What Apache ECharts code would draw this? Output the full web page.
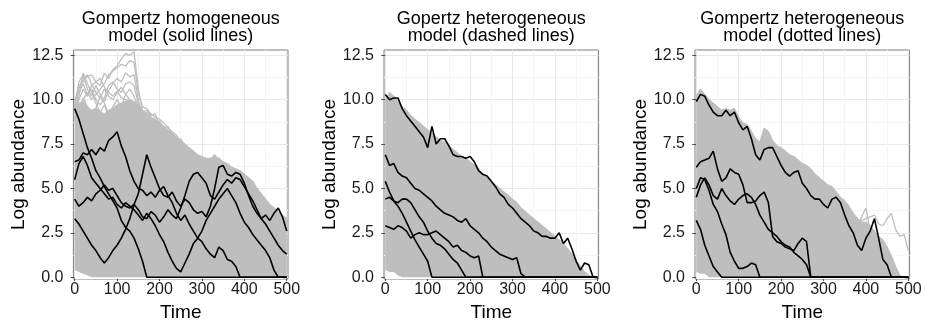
<!DOCTYPE html>
<html><head><meta charset="utf-8">
<script src="https://cdn.jsdelivr.net/npm/echarts@6/dist/echarts.min.js"></script>
<style>html,body{margin:0;padding:0;background:#fff}#c{width:926px;height:329px}</style>
</head><body><div id="c"></div>
<script>
// ---------- data ----------
const times = [0,10,20,30,40,50,60,70,80,90,100,110,120,130,140,150,160,170,180,190,200,210,220,230,240,250,260,270,280,290,300,310,320,330,340,350,360,370,380,390,400,410,420,430,440,450,460,470,480,490,500];
const xTicks = [0,100,200,300,400,500];
const xMinor = [50,150,250,350,450];
const yTicks = [0,2.5,5,7.5,10,12.5];
const yMinor = [1.25,3.75,6.25,8.75,11.25];
const titles = ["Gompertz homogeneous\nmodel (solid lines)","Gopertz heterogeneous\nmodel (dashed lines)","Gompertz heterogeneous\nmodel (dotted lines)"];
const xName = "Time";
const yName = "Log abundance";

// Panel 1: homogeneous
const homBandLow = [0.4,0.3,0.2,0.1,0,0,0,0,0,0,0,0,0,0,0,0,0,0,0,0,0,0,0,0,0,0,0,0,0,0,0,0,0,0,0,0,0,0,0,0,0,0,0,0,0,0,0,0,0,0,0];
const homBandHigh = [9.6,9.8,9.9,9.6,9.4,9.5,9.3,9.2,9.4,9.5,9.7,9.8,9.9,10.0,9.9,9.7,9.4,9.2,9.0,8.9,8.7,8.5,8.3,8.1,7.9,7.7,7.5,7.3,7.1,6.9,6.8,6.7,6.7,6.8,6.7,6.5,6.4,6.2,6.1,6.0,5.8,5.6,5.4,5.0,4.7,4.4,4.1,3.9,3.7,3.5,3.3];
const homGrey1 = [9.2,10.0,10.6,10.2,10.8,11.0,10.8,11.5,11.2,11.7,11.9,12.3,12.6,12.5,12.7,10.6,9.4,9.0,8.6,8.8,8.2,8.0,7.8,7.5,7.3,7.0,6.8,6.5,6.3,6.0,5.8,5.6,5.5,5.3,5.0,4.8,4.6,4.4,4.2,4.0,3.8,3.6,3.4,3.2,3.0,2.8,2.6,2.4,2.2,2.0,1.8];
const homGrey2 = [9.6,11.0,11.4,10.6,10.2,10.8,10.3,9.9,10.5,10.9,11.2,11.0,11.5,11.3,11.4,10.0,9.0,8.7,8.4,8.1,7.8,7.6,7.4,7.1,6.9,6.6,6.4,6.2,5.9,5.7,5.5,5.3,5.1,4.9,4.7,4.5,4.3,4.1,3.9,3.7,3.5,3.3,3.1,2.9,2.7,2.5,2.3,2.1,1.9,1.7,1.5];
const homGrey3 = [8.8,10.2,11.5,10.9,10.4,9.8,9.3,9.7,9.1,9.6,10.0,9.6,10.3,10.0,9.4,9.0,8.8,8.9,8.5,8.6,8.3,7.9,7.7,7.4,7.2,7.0,6.7,6.5,6.2,6.0,5.8,5.6,5.4,5.2,5.0,4.8,4.6,4.4,4.2,4.0,3.8,3.6,3.4,3.2,3.0,2.8,2.6,2.4,2.2,2.0,1.8];
const homGrey4 = [9.8,9.3,10.1,9.6,9.0,9.5,10.2,9.8,9.2,8.8,9.4,9.0,8.6,9.2,8.7,8.5,8.2,8.0,7.8,7.6,7.5,7.3,7.1,6.9,6.7,6.5,6.3,6.1,5.9,5.7,5.5,5.3,5.1,4.9,4.7,4.5,4.3,4.1,3.9,3.7,3.5,3.3,3.1,2.9,2.7,2.5,2.3,2.1,1.9,1.7,1.5];
const homGrey5 = [9.7,10.6,11.2,11.4,10.9,10.4,10.1,10.6,10.2,10.0,10.4,10.7,10.3,10.6,10.2,9.6,9.1,9.3,9.0,8.7,8.8,8.4,8.2,7.9,7.8,7.5,7.3,7.1,6.8,6.6,6.4,6.5,6.6,6.9,6.6,6.3,6.2,6.0,6.1,5.8,5.5,5.3,5.0,4.7,4.4,4.1,3.9,3.7,3.5,3.3,3.1];
const homGrey6 = [9.4,10.4,10.9,10.3,10.6,10.0,9.7,10.1,10.8,11.0,10.6,10.4,10.9,11.0,10.8,9.8,9.3,9.4,9.1,9.2,8.6,8.3,8.5,8.0,7.7,7.8,7.4,7.0,7.1,6.7,6.5,6.3,6.4,6.2,6.5,6.2,5.9,5.7,5.9,5.6,5.2,4.9,4.6,4.2,4.0,3.7,3.5,3.2,3.0,2.8,2.6];
const homGrey7 = [9.9,10.8,11.0,11.3,11.4,11.0,11.2,10.7,10.4,10.2,10.5,10.1,10.0,9.9,9.6,9.4,9.2,9.0,8.8,8.6,8.4,8.2,8.0,7.7,7.5,7.2,7.0,6.7,6.5,6.3,6.1,5.9,5.7,5.5,5.3,5.1,4.9,4.7,4.5,4.3,4.1,3.9,3.7,3.5,3.3,3.1,2.9,2.7,2.5,2.3,2.1];
const homGrey8 = [9.0,9.6,10.0,10.4,10.0,10.3,10.6,10.9,11.4,11.6,11.8,12.0,11.9,12.2,12.1,10.4,9.6,9.5,9.2,9.0,8.9,8.7,8.4,8.2,8.0,7.6,7.4,7.2,6.9,6.8,6.6,6.4,6.2,6.0,5.8,5.6,5.4,5.2,5.0,4.8,4.6,4.4,4.2,4.0,3.8,3.6,3.4,3.2,3.0,2.8,2.6];
const homBlack1 = [9.5,8.9,8.1,7.3,6.7,6.0,5.6,5.1,4.7,4.3,3.9,3.2,2.8,2.6,2.2,1.6,0.9,0,0,0,0,0,0,0,0,0,0,0,0,0,0,0,0,0,0,0,0,0,0,0,0,0,0,0,0,0,0,0,0,0,0];
const homBlack2 = [6.5,6.6,7.0,6.9,7.2,6.9,7.3,7.1,7.7,7.9,8.2,7.4,6.8,6.0,5.4,5.0,4.9,4.6,4.8,4.5,4.9,5.1,4.6,4.2,3.6,3.2,3.5,3.0,2.6,2.2,2.0,1.6,1.3,1.1,1.7,1.5,1.0,0.9,0.6,0,0,0,0,0,0,0,0,0,0,0,0];
const homBlack3 = [5.5,6.4,6.8,6.3,5.6,5.3,5.0,4.7,4.4,4.5,4.1,3.9,4.2,4.0,3.8,3.5,3.2,3.6,3.3,2.9,2.4,2.0,1.4,0.9,0.5,0.3,0.8,1.3,1.9,2.2,2.6,3.2,3.6,4.0,4.4,4.7,5.0,4.6,4.2,3.6,3.1,2.8,2.4,2.1,1.8,1.5,1.1,0.4,0,0,0];
const homBlack4 = [4.4,4.0,4.2,4.5,4.3,4.7,4.9,5.2,4.9,5.0,4.6,4.2,4.0,3.9,4.1,3.8,3.4,3.3,3.7,3.5,3.1,3.4,3.8,3.5,3.3,3.9,4.6,5.4,5.8,5.9,5.6,5.3,4.6,4.4,4.8,5.2,5.5,5.3,5.6,5.5,5.1,4.7,4.3,3.8,3.3,3.0,2.6,2.2,1.8,1.5,1.3];
const homBlack5 = [3.3,3.0,2.6,2.2,1.8,1.5,1.1,0.8,1.1,1.5,1.8,2.2,2.7,3.3,4.1,4.7,5.8,6.9,6.2,5.6,5.0,4.6,4.5,4.8,4.3,4.0,4.4,4.2,3.8,3.6,3.7,3.4,4.0,5.0,6.2,6.3,5.8,5.7,5.9,5.8,5.3,4.6,4.0,3.6,3.3,3.5,3.2,3.6,3.9,3.4,2.6];

// Panel 2: heterogeneous (dashed)
const hetABandLow = [0.4,0.3,0.3,0.1,0,0,0,0,0,0,0,0,0,0,0,0,0,0,0,0,0,0,0,0,0,0,0,0,0,0,0,0,0,0,0,0,0,0,0,0,0,0,0,0,0,0,0,0,0,0,0];
const hetABandHigh = [9.9,10.4,10.2,9.9,9.6,9.4,9.1,8.9,8.7,8.5,8.3,8.1,7.9,7.7,7.6,7.4,7.2,7.0,6.8,6.7,6.5,6.3,6.1,5.8,5.6,5.4,5.2,5.0,4.8,4.6,4.4,4.2,3.9,3.7,3.5,3.3,3.1,2.9,2.7,2.5,2.3,2.1,1.9,1.6,1.3,1.0,0.6,0.3,0.1,0,0];
const hetABlack1 = [10.3,10.0,10.1,10.1,9.5,9.1,8.8,8.5,8.2,7.9,7.3,8.5,7.5,7.8,7.8,7.4,6.9,6.8,6.8,6.7,6.8,6.5,6.0,5.8,5.7,5.4,5.1,4.7,4.5,4.1,3.9,3.6,3.3,3.1,2.9,2.6,2.5,2.3,2.3,2.2,2.2,2.5,1.9,2.2,1.6,0.9,0.4,0.8,0.7,0,0];
const hetABlack2 = [6.9,6.3,6.4,5.9,5.7,5.6,5.3,5.0,4.9,4.7,4.5,4.3,4.0,3.8,3.6,3.5,3.4,3.2,3.1,3.3,2.9,2.7,2.5,2.2,2.0,1.7,1.5,1.3,1.2,1.1,1.0,1.1,0.2,0,0,0,0,0,0,0,0,0,0,0,0,0,0,0,0,0,0];
const hetABlack3 = [5.4,4.8,4.3,4.0,3.6,3.1,2.6,2.1,1.7,1.3,0.9,0,0,0,0,0,0,0,0,0,0,0,0,0,0,0,0,0,0,0,0,0,0,0,0,0,0,0,0,0,0,0,0,0,0,0,0,0,0,0,0];
const hetABlack4 = [4.4,4.5,4.3,4.2,4.4,4.4,4.2,3.8,3.4,3.1,2.6,2.2,1.9,1.8,1.6,1.3,1.0,0.8,0.4,0,0,0,0,0,0,0,0,0,0,0,0,0,0,0,0,0,0,0,0,0,0,0,0,0,0,0,0,0,0,0,0];
const hetABlack5 = [2.9,2.8,2.7,2.9,2.8,2.6,2.2,2.4,2.5,2.4,2.4,2.5,2.6,2.4,2.2,2.0,1.7,1.8,1.5,1.4,1.2,1.1,1.2,0,0,0,0,0,0,0,0,0,0,0,0,0,0,0,0,0,0,0,0,0,0,0,0,0,0,0,0];

// Panel 3: heterogeneous (dotted)
const hetBBandLow = [0.3,0.2,0.2,0,0,0,0,0,0,0,0,0,0,0,0,0,0,0,0,0,0,0,0,0,0,0,0,0,0,0,0,0,0,0,0,0,0,0,0,0,0,0,0,0,0,0,0,0,0,0,0];
const hetBBandHigh = [10.2,10.6,10.3,10.0,9.8,9.6,9.4,9.5,9.4,9.5,9.0,8.7,8.6,8.2,7.8,7.6,8.4,8.2,7.7,7.4,7.3,7.1,6.9,6.8,6.6,6.4,6.3,6.1,5.8,5.6,5.4,5.2,5.1,4.8,4.5,4.3,4.0,3.6,3.3,3.1,3.1,2.9,2.6,2.3,2.1,1.7,1.2,0.6,0.1,0,0];
const hetBGrey1 = [9.0,9.2,9.0,8.8,8.6,8.4,8.3,8.1,8.0,7.8,7.6,7.4,7.2,7.0,6.8,6.6,6.4,6.2,6.0,5.8,5.6,5.4,5.2,5.0,4.8,4.6,4.5,4.3,4.2,4.0,3.9,3.8,3.7,3.6,3.6,3.5,3.4,3.1,2.9,3.4,3.9,2.6,2.1,1.8,1.6,1.3,1.0,0.5,0,0,0];
const hetBGrey2 = [8.5,8.7,8.6,8.4,8.2,8.0,7.9,7.7,7.5,7.3,7.1,6.9,6.7,6.5,6.3,6.1,5.9,5.7,5.5,5.3,5.1,5.0,4.8,4.7,4.6,4.5,4.4,4.2,4.1,4.0,3.9,3.8,3.6,3.5,3.4,3.3,3.2,3.1,3.0,3.2,3.3,3.4,3.5,3.0,2.9,3.3,3.6,2.7,2.3,2.4,1.5];
const hetBBlack1 = [9.9,10.3,10.2,9.7,9.3,9.1,9.1,9.4,9.1,9.3,8.7,8.3,8.5,7.8,6.9,6.6,7.2,7.3,7.3,6.8,6.3,5.9,5.7,5.9,6.0,5.3,5.0,4.6,4.4,4.4,4.1,3.9,4.4,4.5,4.2,3.5,2.9,2.5,1.8,1.5,2.2,2.6,3.3,2.2,1.0,0.7,0,0,0,0,0];
const hetBBlack2 = [6.2,6.5,6.6,6.7,7.1,6.1,5.4,5.6,6.1,5.9,5.8,5.2,4.2,4.2,4.3,4.6,4.8,4.2,2.3,2.0,1.9,1.7,1.6,1.5,1.9,2.2,2.0,0,0,0,0,0,0,0,0,0,0,0,0,0,0,0,0,0,0,0,0,0,0,0,0];
const hetBBlack3 = [4.5,5.2,5.6,5.2,4.6,4.4,5.0,4.6,4.3,4.1,4.4,4.6,4.7,4.5,4.1,3.5,3.1,2.7,2.5,2.3,2.0,1.8,1.7,1.4,1.2,1.0,0.7,0,0,0,0,0,0,0,0,0,0,0,0,0,0,0,0,0,0,0,0,0,0,0,0];
const hetBBlack4 = [5.0,5.6,5.5,4.9,4.1,3.7,3.0,2.4,1.4,0.9,0.5,0.5,0.6,0.8,0.7,0,0,0,0,0,0,0,0,0,0,0,0,0,0,0,0,0,0,0,0,0,0,0,0,0,0,0,0,0,0,0,0,0,0,0,0];
const hetBBlack5 = [3.2,2.7,1.8,1.2,0.6,0.3,0,0,0,0,0,0,0,0,0,0,0,0,0,0,0,0,0,0,0,0,0,0,0,0,0,0,0,0,0,0,0,0,0,0,0,0,0,0,0,0,0,0,0,0,0];

const panels = [
  {low: homBandLow, high: homBandHigh, grey: [homGrey1,homGrey2,homGrey3,homGrey4,homGrey5,homGrey6,homGrey7,homGrey8], black: [homBlack1,homBlack2,homBlack3,homBlack4,homBlack5]},
  {low: hetABandLow, high: hetABandHigh, grey: [], black: [hetABlack1,hetABlack2,hetABlack3,hetABlack4,hetABlack5]},
  {low: hetBBandLow, high: hetBBandHigh, grey: [hetBGrey1,hetBGrey2], black: [hetBBlack1,hetBBlack2,hetBBlack3,hetBBlack4,hetBBlack5]}
];

// ---------- layout / style ----------
const FONT = '"Liberation Sans", Arial, Helvetica, sans-serif';
const gridLefts = [73.4, 384.0, 695.0];
const gridW = 214.6, gridTop = 50, gridH = 229;
const GREY = '#BEBEBE';

const pairs = (vals) => vals.map((v, k) => [times[k], v]);

const grid = [], xAxis = [], yAxis = [], series = [], graphic = [];
panels.forEach((p, i) => {
  grid.push({left: gridLefts[i], top: gridTop, width: gridW, height: gridH, show: true,
    borderColor: '#7F7F7F', borderWidth: 1, backgroundColor: '#fff', containLabel: false});
  xAxis.push({gridIndex: i, type: 'value', min: -3, max: 503,
    axisLine: {show: false},
    axisTick: {show: true, customValues: xTicks, length: 4, lineStyle: {color: '#4d4d4d'}},
    axisLabel: {customValues: xTicks, fontSize: 16, color: '#1a1a1a', margin: 3, fontFamily: FONT},
    splitLine: {show: true, lineStyle: {color: '#E8E8E8', width: 1}},
    name: xName, nameLocation: 'middle', nameGap: 19,
    nameTextStyle: {fontSize: 19, color: '#000', fontFamily: FONT}});
  xAxis.push({gridIndex: i, type: 'value', min: -3, max: 503,
    axisLine: {show: false}, axisTick: {show: false, customValues: xMinor},
    axisLabel: {show: false, customValues: xMinor},
    splitLine: {show: true, lineStyle: {color: '#F5F5F5', width: 1}}});
  yAxis.push({gridIndex: i, type: 'value', min: -0.1, max: 12.8,
    axisLine: {show: false},
    axisTick: {show: true, customValues: yTicks, length: 4, lineStyle: {color: '#4d4d4d'}},
    axisLabel: {customValues: yTicks, fontSize: 16, color: '#1a1a1a', margin: 10, fontFamily: FONT,
      formatter: (v) => v.toFixed(1)},
    splitLine: {show: true, lineStyle: {color: '#E8E8E8', width: 1}},
    name: yName, nameLocation: 'middle', nameGap: 38,
    nameTextStyle: {fontSize: 19, color: '#000', fontFamily: FONT}});
  yAxis.push({gridIndex: i, type: 'value', min: -0.1, max: 12.8,
    axisLine: {show: false}, axisTick: {show: false, customValues: yMinor},
    axisLabel: {show: false, customValues: yMinor},
    splitLine: {show: true, lineStyle: {color: '#F5F5F5', width: 1}}});

  const xi = 2 * i, yi = 2 * i;
  const base = {type: 'line', xAxisIndex: xi, yAxisIndex: yi, symbol: 'none', silent: true, animation: false};
  series.push(Object.assign({}, base, {data: pairs(p.high),
    lineStyle: {color: GREY, width: 1.2}, areaStyle: {color: GREY, opacity: 1, origin: 'start'}}));
  series.push(Object.assign({}, base, {data: pairs(p.low),
    lineStyle: {width: 0, opacity: 0}, areaStyle: {color: '#fff', opacity: 1, origin: 'start'}}));
  p.grey.forEach(g => series.push(Object.assign({}, base, {data: pairs(g), lineStyle: {color: GREY, width: 1.3}})));
  p.black.forEach(b => series.push(Object.assign({}, base, {data: pairs(b), lineStyle: {color: '#000', width: 1.6}})));

  graphic.push({type: 'text', x: gridLefts[i] + gridW / 2, y: 11,
    style: {text: titles[i], font: '18px ' + FONT, fill: '#000', align: 'center', textAlign: 'center',
      verticalAlign: 'top', textVerticalAlign: 'top', lineHeight: 17}});
});

const chart = echarts.init(document.getElementById('c'), null, {renderer: 'canvas'});
chart.setOption({animation: false, grid, xAxis, yAxis, series, graphic});
</script></body></html>
